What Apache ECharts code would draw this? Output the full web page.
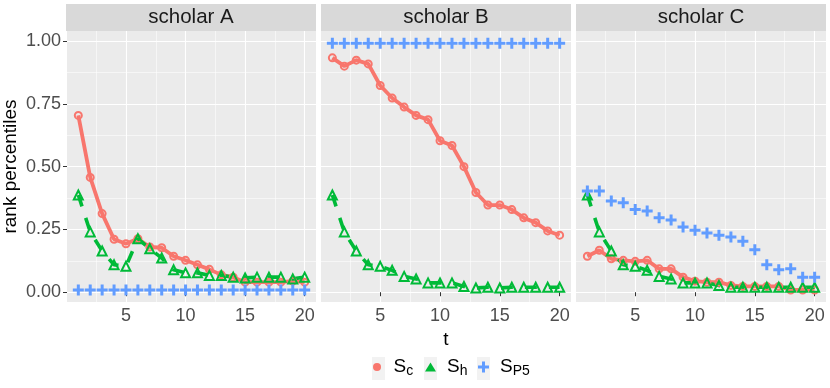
<!DOCTYPE html>
<html>
<head>
<meta charset="utf-8">
<script src="https://cdn.jsdelivr.net/npm/echarts@6/dist/echarts.min.js"></script>
<style>
  html, body { margin: 0; padding: 0; background: #fff; }
  #chart { width: 830px; height: 388px; }
</style>
</head>
<body>
<div id="chart"></div>
<script>
// t values and tick positions
const tValues = [1, 2, 3, 4, 5, 6, 7, 8, 9, 10, 11, 12, 13, 14, 15, 16, 17, 18, 19, 20];
const xTicks = [5, 10, 15, 20];
const xMinor = [2.5, 7.5, 12.5, 17.5];
const yTicks = [0, 0.25, 0.5, 0.75, 1];
const yMinor = [0.125, 0.375, 0.625, 0.875];
const panelNames = ['scholar A', 'scholar B', 'scholar C'];

// scholar A
const scA = [0.704, 0.457, 0.313, 0.211, 0.193, 0.213, 0.180, 0.177, 0.143, 0.127, 0.109, 0.091, 0.069, 0.060, 0.040, 0.040, 0.040, 0.040, 0.044, 0.040];
const shA = [0.387, 0.240, 0.164, 0.109, 0.103, 0.213, 0.173, 0.136, 0.089, 0.077, 0.077, 0.067, 0.067, 0.060, 0.057, 0.060, 0.060, 0.060, 0.053, 0.060];
const sp5A = [0.009, 0.009, 0.009, 0.009, 0.009, 0.009, 0.009, 0.009, 0.009, 0.009, 0.009, 0.009, 0.009, 0.009, 0.009, 0.009, 0.009, 0.009, 0.009, 0.009];
// scholar B
const scB = [0.933, 0.900, 0.924, 0.909, 0.823, 0.773, 0.737, 0.704, 0.687, 0.603, 0.584, 0.500, 0.397, 0.347, 0.347, 0.329, 0.296, 0.277, 0.244, 0.227];
const shB = [0.387, 0.240, 0.164, 0.109, 0.103, 0.087, 0.063, 0.053, 0.037, 0.037, 0.037, 0.023, 0.017, 0.020, 0.017, 0.020, 0.020, 0.020, 0.020, 0.020];
const sp5B = [0.991, 0.991, 0.991, 0.991, 0.991, 0.991, 0.991, 0.991, 0.991, 0.991, 0.991, 0.991, 0.991, 0.991, 0.991, 0.991, 0.991, 0.991, 0.991, 0.991];
// scholar C
const scC = [0.143, 0.167, 0.133, 0.127, 0.123, 0.127, 0.093, 0.093, 0.060, 0.044, 0.040, 0.040, 0.027, 0.023, 0.023, 0.023, 0.023, 0.009, 0.009, 0.009];
const shC = [0.387, 0.240, 0.164, 0.109, 0.103, 0.087, 0.063, 0.053, 0.037, 0.037, 0.037, 0.027, 0.020, 0.020, 0.020, 0.020, 0.020, 0.020, 0.020, 0.020];
const sp5C = [0.403, 0.403, 0.363, 0.356, 0.329, 0.323, 0.296, 0.287, 0.260, 0.247, 0.236, 0.227, 0.220, 0.203, 0.169, 0.109, 0.089, 0.093, 0.060, 0.060];

const panelData = [[scA, shA, sp5A], [scB, shB, sp5B], [scC, shC, sp5C]];
const seriesNames = ['Sc', 'Sh', 'SP5'];
const subs = { Sc: 'c', Sh: 'h', SP5: 'P5' };
const colors = ['#F8766D', '#00BA38', '#619CFF'];
const plusPath = 'path://M4,0H7V4H11V7H7V11H4V7H0V4H4Z';

const FONT = 'Liberation Sans';
const gridLefts = [66, 321, 576];
const gridW = 250, gridTop = 31, gridH = 271;
const yMin = -0.039, yMax = 1.04;

const pairs = vals => tValues.map((t, i) => [t, vals[i]]);

let grids = [], xAxes = [], yAxes = [], series = [], graphics = [];

panelNames.forEach((name, i) => {
  grids.push({ left: gridLefts[i], top: gridTop, width: gridW, height: gridH,
    show: true, backgroundColor: '#EBEBEB', borderWidth: 0 });

  // main x axis (major grid + labels)
  xAxes.push({
    gridIndex: i, type: 'value', min: 0.05, max: 20.95,
    name: i === 1 ? 't' : '', nameLocation: 'middle', nameGap: 27,
    nameTextStyle: { fontFamily: FONT, fontSize: 19, color: '#000' },
    axisLine: { show: false },
    axisTick: { show: true, customValues: xTicks, length: 4, lineStyle: { color: '#333', width: 1 } },
    axisLabel: { customValues: xTicks, color: '#4D4D4D', fontFamily: FONT, fontSize: 18, margin: 5 },
    splitLine: { show: true, lineStyle: { color: '#fff', width: 1.1 } }
  });
  // minor x grid
  xAxes.push({
    gridIndex: i, type: 'value', min: 0.05, max: 20.95, position: 'bottom',
    axisLine: { show: false },
    axisTick: { show: false, customValues: xMinor },
    axisLabel: { show: false, customValues: xMinor },
    splitLine: { show: true, lineStyle: { color: '#fff', width: 0.55 } }
  });
  yAxes.push({
    gridIndex: i, type: 'value', min: yMin, max: yMax,
    name: i === 0 ? 'rank percentiles' : '', nameLocation: 'middle', nameGap: 47,
    nameTextStyle: { fontFamily: FONT, fontSize: 19, color: '#000' },
    axisLine: { show: false },
    axisTick: { show: i === 0, customValues: yTicks, length: 4, lineStyle: { color: '#333', width: 1 } },
    axisLabel: { show: i === 0, customValues: yTicks, color: '#4D4D4D', fontFamily: FONT, fontSize: 18, margin: 6,
      formatter: v => v.toFixed(2) },
    splitLine: { show: true, lineStyle: { color: '#fff', width: 1.1 } }
  });
  yAxes.push({
    gridIndex: i, type: 'value', min: yMin, max: yMax, position: 'left',
    axisLine: { show: false },
    axisTick: { show: false, customValues: yMinor },
    axisLabel: { show: false, customValues: yMinor },
    splitLine: { show: true, lineStyle: { color: '#fff', width: 0.55 } }
  });

  const [sc, sh, sp5] = panelData[i];
  series.push({
    name: 'Sc', type: 'line', xAxisIndex: i * 2, yAxisIndex: i * 2, data: pairs(sc),
    symbol: 'circle', symbolSize: 7, showAllSymbol: true,
    lineStyle: { color: colors[0], width: 3.8 },
    itemStyle: { color: 'rgba(0,0,0,0)', borderColor: colors[0], borderWidth: 2 }
  });
  series.push({
    name: 'Sh', type: 'line', xAxisIndex: i * 2, yAxisIndex: i * 2, data: pairs(sh),
    symbol: 'triangle', symbolSize: 9, showAllSymbol: true,
    lineStyle: { color: colors[1], width: 3.6, type: [12, 12] },
    itemStyle: { color: 'rgba(0,0,0,0)', borderColor: colors[1], borderWidth: 2 }
  });
  series.push({
    name: 'SP5', type: 'line', xAxisIndex: i * 2, yAxisIndex: i * 2, data: pairs(sp5),
    symbol: plusPath, symbolSize: 11, showAllSymbol: true,
    lineStyle: { opacity: 0 },
    itemStyle: { color: colors[2] }
  });

  // facet strip
  graphics.push({
    type: 'rect', shape: { x: gridLefts[i], y: 4, width: gridW, height: 27 },
    style: { fill: '#D9D9D9' }
  });
  graphics.push({
    type: 'text', x: gridLefts[i] + gridW / 2, y: 17.5,
    style: { text: name, fontFamily: FONT, fontSize: 20.5, fill: '#1A1A1A', align: 'center', verticalAlign: 'middle' }
  });
});

// legend key backgrounds
const keyLefts = [372, 424, 477];
keyLefts.forEach(x => {
  graphics.push({ type: 'rect', shape: { x: x, y: 357, width: 13, height: 23 }, style: { fill: '#F2F2F2' } });
});

const icons = ['circle', 'triangle', plusPath];
const iconSizes = [[11, 8], [11, 9], [11, 11]];
const legends = seriesNames.map((n, k) => ({
  data: [{ name: n, icon: icons[k], itemStyle: { color: colors[k], borderWidth: 0 } }],
  left: keyLefts[k] + 6.5 - iconSizes[k][0] / 2, top: 357.5, padding: 0,
  itemWidth: iconSizes[k][0], itemHeight: iconSizes[k][1],
  selectedMode: false,
  formatter: name => '{s|S}{sub|' + subs[name] + '}',
  textStyle: {
    rich: {
      s: { fontFamily: FONT, fontSize: 19, color: '#000', lineHeight: 22, padding: [0, 0, 0, 6] },
      sub: { fontFamily: FONT, fontSize: 14, color: '#000', lineHeight: 14, verticalAlign: 'bottom' }
    }
  }
}));

const chart = echarts.init(document.getElementById('chart'));
chart.setOption({
  animation: false,
  backgroundColor: '#fff',
  grid: grids,
  xAxis: xAxes,
  yAxis: yAxes,
  legend: legends,
  graphic: graphics,
  series: series
});
</script>
</body>
</html>
